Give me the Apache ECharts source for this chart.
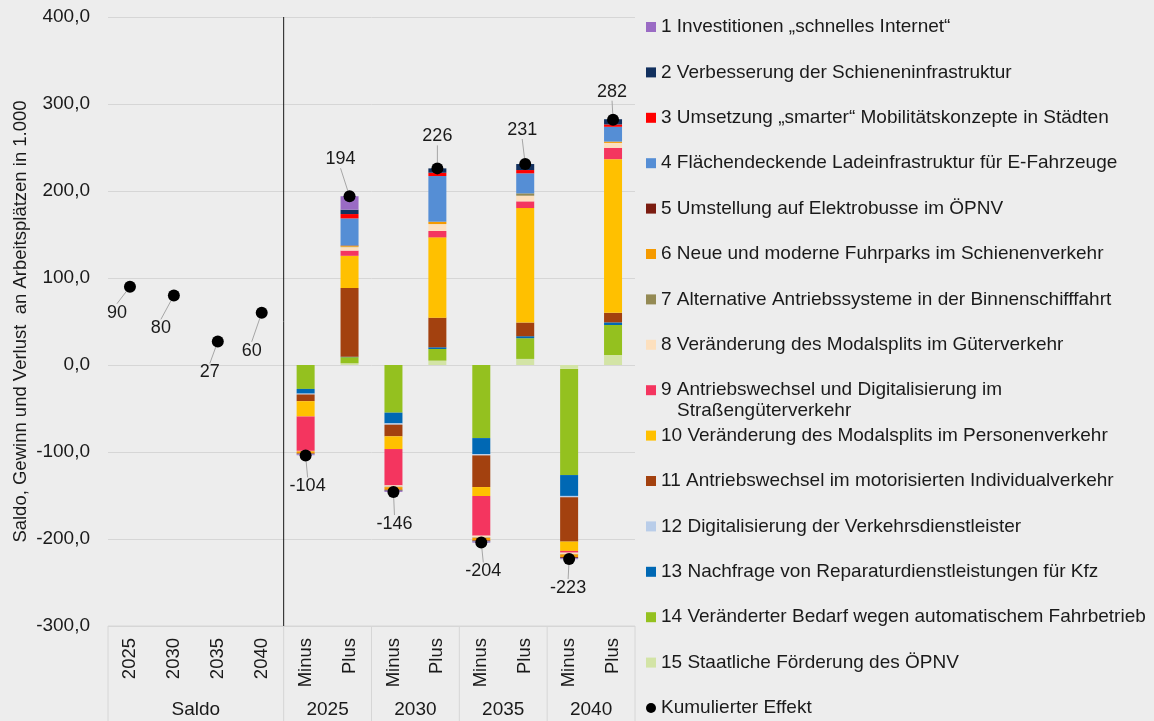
<!DOCTYPE html>
<html>
<head>
<meta charset="utf-8">
<script src="https://cdn.jsdelivr.net/npm/echarts@6/dist/echarts.min.js"></script>
<style>
	html, body { margin: 0; padding: 0; background: #EDEDED; }
	#main { width: 1154px; height: 721px; }
</style>
</head>
<body>
<div id="main"></div>
<script>
// Kategorien (untere Achse) und Gruppen
var categories = ['2025', '2030', '2035', '2040', 'Minus', 'Plus', 'Minus', 'Plus', 'Minus', 'Plus', 'Minus', 'Plus'];
var groupNames = ['Saldo', '2025', '2030', '2035', '2040'];

var seriesNames = [
	'1 Investitionen „schnelles Internet“',
	'2 Verbesserung der Schieneninfrastruktur',
	'3 Umsetzung „smarter“ Mobilitätskonzepte in Städten',
	'4 Flächendeckende Ladeinfrastruktur für E-Fahrzeuge',
	'5 Umstellung auf Elektrobusse im ÖPNV',
	'6 Neue und moderne Fuhrparks im Schienenverkehr',
	'7 Alternative Antriebssysteme in der Binnenschifffahrt',
	'8 Veränderung des Modalsplits im Güterverkehr',
	'9 Antriebswechsel und Digitalisierung im',
	'10 Veränderung des Modalsplits im Personenverkehr',
	'11 Antriebswechsel im motorisierten Individualverkehr',
	'12 Digitalisierung der Verkehrsdienstleister',
	'13 Nachfrage von Reparaturdienstleistungen für Kfz',
	'14 Veränderter Bedarf wegen automatischem Fahrbetrieb',
	'15 Staatliche Förderung des ÖPNV'
];
var cumulName = 'Kumulierter Effekt';

// Werte je Maßnahme: Saldo 2025-2040 (leer), dann Minus/Plus je Jahr
var s1  = [null, null, null, null,  -1,  15.5,  -1,    0,    -1,    0,     -1,    0];
var s2  = [null, null, null, null,   0,   5,     0,    5,     0,    6.9,    0,    6];
var s3  = [null, null, null, null,   0,   5,     0,    3.8,   0,    3.8,    0,    2.7];
var s4  = [null, null, null, null,  -0.5, 31,   -0.5, 52.5, -0.5,  23,    -0.5,  17];
var s5  = [null, null, null, null,  -0.5, 0.5,  -1,    0,    -1,    0,     -1,    0];
var s6  = [null, null, null, null,  -2.5, 1,    -3,    2.7,  -3,    0,     -3,    1.5];
var s7  = [null, null, null, null,   0,   0.5,  -0.5,  0,    -0.5,  2.7,   -0.5,  0];
var s8  = [null, null, null, null,  -0.5, 4,    -1.5,  8,    -2,    6.5,   -1.5,  5.7];
var s9  = [null, null, null, null, -39.5, 6,   -41.8,  7.3, -45.6,  7.7,   -2,   13];
var s10 = [null, null, null, null, -17.6, 37,  -14.6, 92.3, -10.3, 131.6, -10.7, 176.6];
var s11 = [null, null, null, null,  -7.7, 79,  -13.4, 34,   -36.4, 15.7,  -51,   11];
var s12 = [null, null, null, null,  -1,   0,    -1.5,  0,    -1.5,  0,     -1.5,  0];
var s13 = [null, null, null, null,  -5.4, 0.5, -12.3,  2,   -18.4,  2.3,  -24,    3];
var s14 = [null, null, null, null, -27.5, 7,   -54.8, 13.4, -84,   23.8, -122,   34.5];
var s15 = [null, null, null, null,   0,   2,     0,    5,     0,    7,     -4.5, 11.5];
var cumul = [90, 80, 27, 60, -104, 194, -146, 226, -204, 231, -223, 282];

var yTicks = { min: -300, max: 400, interval: 100 };

function drawChart() {
	var chartDom = document.getElementById('main');
	var myChart = echarts.init(chartDom);
	var option;

	var values = [s1, s2, s3, s4, s5, s6, s7, s8, s9, s10, s11, s12, s13, s14, s15];
	var colorSet = [
		'#9A6BC4', '#12305E', '#FF0000', '#558ED5', '#7B1C10',
		'#F59A00', '#948A54', '#FDE0BE', '#F4355F', '#FFC000',
		'#A3410F', '#B9CDE9', '#0068B4', '#94C11F', '#D3E4A6'
	];
	var font = "'Liberation Sans', Arial, sans-serif";
	var textColor = '#1A1A1A';

	// Label-Versatz der Punktbeschriftungen (dx, dy)
	var labelShift = [
		[-13, 26], [-13, 33], [-8, 31], [-10, 38],
		[2, 31], [-9, -37], [1, 32], [0, -32],
		[2, 29], [-3, -34], [-1, 29], [-1, -28]
	];

	// Excel stapelt Maßnahme 15 zuerst (an der Nulllinie)
	var series = [];
	for (var i = values.length - 1; i >= 0; i--) {
		series.push({
			name: seriesNames[i],
			type: 'bar',
			stack: 'total',
			barWidth: 18,
			itemStyle: { color: colorSet[i] },
			data: values[i]
		});
	}
	series.push({
		name: cumulName,
		type: 'scatter',
		symbolSize: 12,
		z: 10,
		itemStyle: { color: '#000', opacity: 1 },
		label: {
			show: true,
			position: 'inside',
			fontFamily: font,
			fontSize: 18,
			color: textColor,
			formatter: function (p) { return p.value; }
		},
		labelLine: {
			show: true,
			lineStyle: { color: '#A6A6A6', width: 1 }
		},
		labelLayout: function (params) {
			var s = labelShift[params.dataIndex];
			return { dx: s[0], dy: s[1] };
		},
		data: cumul
	});

	var legendData = seriesNames.map(function (n) { return { name: n, icon: 'rect' }; });
	legendData.push({ name: cumulName, icon: 'circle', itemStyle: { color: '#000', opacity: 1 } });

	option = {
		backgroundColor: '#EDEDED',
		animation: false,
		grid: { left: 108, right: 519, top: 17, bottom: 95 },
		legend: {
			orient: 'vertical',
			left: 646,
			top: 17,
			padding: 0,
			itemWidth: 10,
			itemHeight: 10,
			itemGap: 25.4,
			selectedMode: false,
			textStyle: { fontFamily: font, fontSize: 19, color: textColor, lineHeight: 20 },
			data: legendData
		},
		xAxis: [
			{
				type: 'category',
				data: categories,
				axisLine: { show: false },
				axisTick: { show: false },
				axisLabel: {
					rotate: 90,
					margin: 12,
					interval: 0,
					fontFamily: font,
					fontSize: 18.5,
					color: textColor
				}
			},
			{
				type: 'value',
				min: 0,
				max: 12,
				interval: 1,
				position: 'bottom',
				axisLine: { show: false },
				axisTick: { show: false },
				splitLine: { show: false },
				axisLabel: {
					margin: 74,
					fontFamily: font,
					fontSize: 19,
					color: textColor,
					showMinLabel: true,
					showMaxLabel: true,
					formatter: function (v) {
						var at = { 2: 0, 5: 1, 7: 2, 9: 3, 11: 4 };
						return at[v] !== undefined ? groupNames[at[v]] : '';
					}
				}
			}
		],
		yAxis: {
			type: 'value',
			min: yTicks.min,
			max: yTicks.max,
			interval: yTicks.interval,
			name: 'Saldo, Gewinn und Verlust  an Arbeitsplätzen in 1.000',
			nameLocation: 'middle',
			nameGap: 78,
			nameTextStyle: { fontFamily: font, fontSize: 18.5, color: textColor },
			axisLine: { show: false },
			axisTick: { show: false },
			splitLine: { lineStyle: { color: '#D6D6D6', width: 1 } },
			axisLabel: {
				margin: 18,
				fontFamily: font,
				fontSize: 19,
				color: textColor,
				formatter: function (v) { return v.toFixed(1).replace('.', ','); }
			}
		},
		series: series
	};

	option && myChart.setOption(option);

	// Trennlinien: schwarze Linie zwischen Saldo und Jahren, Tabellenraster unten
	var top = myChart.convertToPixel({ yAxisIndex: 0 }, yTicks.max);
	var bottom = myChart.convertToPixel({ yAxisIndex: 0 }, yTicks.min);
	var xAt = function (v) { return myChart.convertToPixel({ xAxisIndex: 1 }, v); };
	var graphics = [];
	[0, 4, 6, 8, 10, 12].forEach(function (v) {
		graphics.push({
			type: 'line',
			shape: { x1: xAt(v), y1: bottom, x2: xAt(v), y2: 721 },
			style: { stroke: '#D6D6D6', lineWidth: 1 }
		});
	});
	graphics.push({
		type: 'line',
		shape: { x1: xAt(0), y1: bottom, x2: xAt(12), y2: bottom },
		style: { stroke: '#D6D6D6', lineWidth: 1 }
	});
	graphics.push({
		type: 'line',
		z: 20,
		shape: { x1: xAt(4), y1: top, x2: xAt(4), y2: bottom },
		style: { stroke: '#1A1A1A', lineWidth: 1 }
	});
	// zweite Zeile der Legende für Maßnahme 9
	graphics.push({
		type: 'text',
		left: 677,
		top: 401,
		style: {
			text: 'Straßengüterverkehr',
			fontFamily: font,
			fontSize: 19,
			fill: textColor
		}
	});
	myChart.setOption({ graphic: graphics });
}

drawChart();
</script>
</body>
</html>
